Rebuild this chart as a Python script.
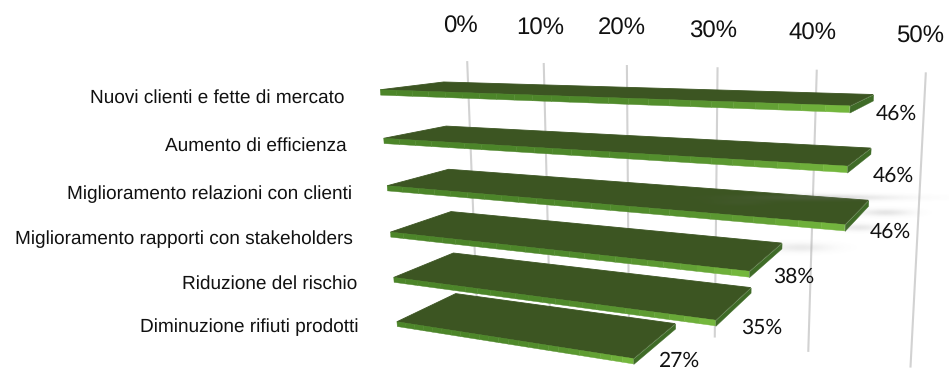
import numpy as np, pandas as pd, matplotlib
matplotlib.use("Agg")
import matplotlib.pyplot as plt, seaborn as sns
from matplotlib.transforms import Transform, Affine2D
from matplotlib.collections import PolyCollection
from matplotlib.colors import to_rgb

categories = ["Nuovi clienti e fette di mercato", "Aumento di efficienza", "Miglioramento relazioni con clienti",
              "Miglioramento rapporti con stakeholders", "Riduzione del rischio", "Diminuzione rifiuti prodotti"]
values = [46, 46, 46, 38, 35, 27]
ticks = [0, 10, 20, 30, 40, 50]

# Perspective cameras: (value, row, depth) -> pixel, and (value, t) -> pixel for the grid wall
CAM = np.array([[6.525764534727778, 8.013009723584581, 109.59453054303637, 380.22864682913985],
                [-0.10825681715242297, 50.18168685614739, 0.7585845987978114, 89.74125854894424],
                [-0.004330332351855759, 0.011763780649976185, 0.1039836633388918, 1.0]])
GRID = np.array([[5.49555267098953, 33.604453072839625, 467.1799230478864],
                 [-0.0627167088834426, 255.1233166101465, 61.10877423075732],
                 [-0.003972208669416943, 0.0504322736155694, 1.0]])

W, H = 949, 371
def project(v, y, z):
    v = np.asarray(v, float)
    P = np.stack([v, np.asarray(y, float), np.asarray(z, float), np.ones_like(v)])
    r = CAM @ P
    return np.column_stack([r[0] / r[2], r[1] / r[2]])

to_display = Affine2D().scale(1, -1).translate(0, H)
BAR_W = 0.8

class FaceT(Transform):
    input_dims = output_dims = 2
    def transform_non_affine(self, xy):
        xy = np.asarray(xy, float).reshape(-1, 2)
        i = np.round(xy[:, 1])
        z = 0.5 - (xy[:, 1] - i) / BAR_W
        return project(xy[:, 0], i, z)

class GridT(Transform):
    input_dims = output_dims = 2
    def transform_non_affine(self, xy):
        xy = np.asarray(xy, float).reshape(-1, 2)
        r = GRID @ np.column_stack([xy, np.ones(len(xy))]).T
        return np.column_stack([r[0] / r[2], r[1] / r[2]])

sns.set_style("white")
plt.rcParams['font.family'] = ['Liberation Sans', 'DejaVu Sans']
plt.rcParams['text.hinting'] = 'no_hinting'
plt.rcParams['text.hinting_factor'] = 1
fig = plt.figure(figsize=(W / 100, H / 100), dpi=100)

# soft shadows on the wall
yy, xx = np.mgrid[0:H, 0:W]
sh = np.zeros((H, W))
for cx, cy, sx, sy, a in [(815, 197, 75, 3, .26), (885, 212, 24, 3.5, .18), (858, 227, 20, 3.5, .16),
                          (800, 247, 30, 4.5, .14), (740, 202, 30, 3, .08)]:
    sh += a * np.exp(-((xx - cx) / sx) ** 2 - ((yy - cy) / sy) ** 2)
img = np.ones((H, W, 4)) * 0.45
img[..., 3] = np.clip(sh, 0, 1)
fig.figimage(img, 0, 0, origin='upper', zorder=0)

ax = fig.add_axes([0, 0, 1, 1])
ax.patch.set_visible(False)
df = pd.DataFrame({"cat": categories, "val": values})
sns.barplot(data=df, x="val", y="cat", color="#3c5522", saturation=1, width=BAR_W, ax=ax)
ax.set_axis_off()
face = FaceT() + to_display
grid = GridT() + to_display
for t in ticks:
    ax.plot([t, t], [0, 1], color="#d2d2d2", lw=1.5, transform=grid, clip_on=False, zorder=1, solid_capstyle='butt')

D = 0.11
lo = np.array(to_rgb("#4c8529"))
hi = np.array(to_rgb("#7cc041"))
for i, (v, patch) in enumerate(zip(values, ax.patches)):
    patch.set_transform(face)
    patch.set_clip_on(False)
    patch.set_zorder(3 + 2 * i)
    patch.set_edgecolor("#3c5522")
    patch.set_linewidth(0.6)
    e = np.linspace(0, v, 25)
    polys, cols = [], []
    for a, c in zip(e[:-1], e[1:]):
        polys.append(project([a, c, c, a], [i, i, i + D, i + D], [0, 0, 0, 0]))
        cols.append(lo + (hi - lo) * (a / v) ** 4)
    ax.add_collection(PolyCollection(polys, facecolors=cols, edgecolors=cols, linewidths=.3, transform=to_display,
                                     zorder=3 + 2 * i, clip_on=False), autolim=False)
    ax.add_collection(PolyCollection([project([v, v, v, v], [i, i, i + D, i + D], [0, 1, 1, 0])], facecolors="#3f6b27",
                                     edgecolors="#3f6b27", linewidths=.3, transform=to_display,
                                     zorder=3 + 2 * i, clip_on=False), autolim=False)

def label(x, y, s, **k):
    fig.text(x / W, 1 - y / H, s, va='center', **k)

catpos = [(344, 98), (347, 146), (352, 194), (353, 239), (357, 284), (359, 327)]
for c, (x, y) in zip(categories, catpos):
    label(x, y, c, ha='right', fontsize=13.5, color='#111111')
tickpos = [(460, 27), (540, 29), (622, 29), (713, 32), (812, 34), (920, 37)]
for t, (x, y) in zip(ticks, tickpos):
    label(x, y, f"{t}%", ha='center', fontsize=17, color='#111111')
valpos = [(896, 114), (893, 176), (890, 232), (794, 277), (762, 328), (679, 361)]
for v, (x, y) in zip(values, valpos):
    label(x, y, f"{v}%", ha='center', fontsize=15, family='Lato', color='#111111')
fig.savefig("out.png", dpi=100)
